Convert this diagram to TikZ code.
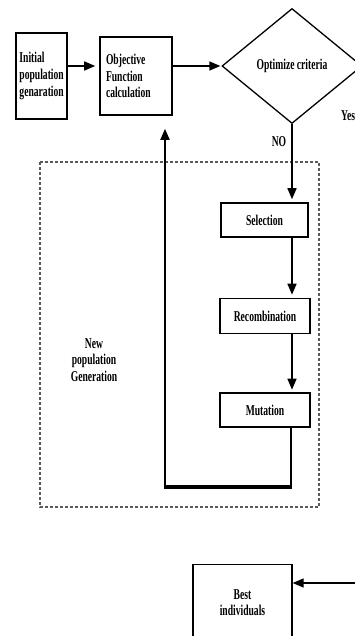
\documentclass[tikz,border=0pt]{standalone}
\usepackage{fontspec}
\setmainfont{Liberation Serif}[FakeStretch=0.64]
\usetikzlibrary{arrows.meta,shapes.geometric}
\begin{document}
\begin{tikzpicture}[x=1pt,y=-1pt,
  txt/.style={font=\fontsize{15}{16.7}\selectfont\bfseries},
  boxnode/.style={draw,line width=1.6pt,txt,inner sep=0pt},
  arr/.style={line width=1.5pt,-{Triangle[length=11pt,width=9pt]}},
  loopline/.style={line width=1.8pt}]
\useasboundingbox (0,0) rectangle (355,636);
\clip (0,0) rectangle (355,636);
% boxes
\node[boxnode,minimum width=51,minimum height=86,text width=44,align=left,inner xsep=3.5pt] (init) at (41.5,76) {Initial\\population\\genaration};
\node[boxnode,minimum width=72,minimum height=78,text width=60,align=left,inner xsep=6pt] (obj) at (136,76) {Objective\\Function\\calculation};
\node[draw,diamond,line width=1.3pt,minimum width=140,minimum height=115,inner sep=0pt,txt] (dec) at (292,66) {Optimize criteria};
\node[boxnode,minimum width=87,minimum height=34] (sel) at (264.5,220) {Selection};
\node[boxnode,minimum width=90,minimum height=35] (rec) at (265,316) {Recombination};
\node[boxnode,minimum width=90,minimum height=34] (mut) at (265,410) {Mutation};
\node[boxnode,line width=1.3pt,minimum width=99,minimum height=76,anchor=north,align=center] (best) at (242.5,564) {Best\\individuals};
% labels
\node[txt,inner sep=0pt] (no) at (279,142) {NO};
\node[txt,inner sep=0pt,anchor=west] (yes) at (341,116) {Yes};
\node[txt,inner sep=0pt,align=center] (newpop) at (94,360) {New\\population\\Generation};
% dashed region
\draw[dashed,dash pattern=on 3pt off 2pt,line width=1.1pt,gray!70!black] (40,162) rectangle (319,507);
% coordinates
\coordinate (ax) at (292,0);
\coordinate (ay) at (0,66);
\coordinate (lb) at (291,487);
\coordinate (lc) at (165,487);
\coordinate (bin) at (365,583);
% connectors
\draw[arr,shorten >=4pt] (init.east |- ay) -- (obj.west |- ay);
\draw[arr,shorten >=1pt] (obj.east |- dec.west) -- (dec.west);
\draw[arr,shorten >=3pt] (dec.south) -- (dec.south |- sel.north);
\draw[arr,shorten >=3pt] (sel.south -| ax) -- (rec.north -| ax);
\draw[arr,shorten >=2.5pt] (rec.south -| ax) -- (mut.north -| ax);
\draw[loopline] (mut.south -| lb) -- ([yshift=1pt]lb);
\draw[line width=3.5pt] ([xshift=0.9pt]lb) -- ([xshift=-0.9pt]lc);
\draw[arr,line width=1.8pt,shorten >=13pt] ([yshift=1.5pt]lc) -- (obj.south -| lc);
\draw[arr] (bin) -- (bin -| best.east);
\end{tikzpicture}
\end{document}
